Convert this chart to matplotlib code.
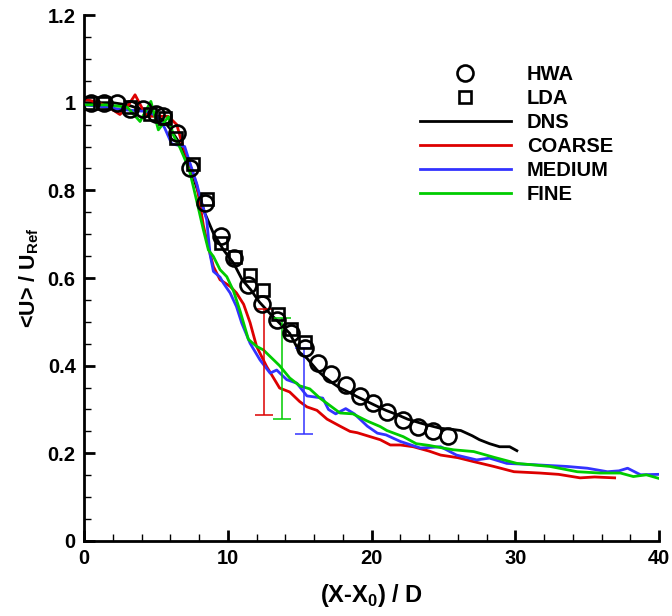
import numpy as np
import matplotlib
matplotlib.use("Agg")
import matplotlib.pyplot as plt

# fonts
plt.rcParams['font.family'] = ['Liberation Sans', 'DejaVu Sans']
plt.rcParams['font.weight'] = 'bold'
plt.rcParams['mathtext.fontset'] = 'custom'
plt.rcParams['mathtext.rm'] = 'Liberation Sans:bold'
plt.rcParams['mathtext.bf'] = 'Liberation Sans:bold'

# data
hwa_x = [0.5, 1.4, 2.3, 3.2, 4.1, 5.0, 5.5, 6.5, 7.4, 8.4, 9.5, 10.4, 11.4, 12.4, 13.4,
         14.4, 15.4, 16.3, 17.2, 18.2, 19.2, 20.1, 21.1, 22.2, 23.2, 24.3, 25.3]
hwa_y = [1.0, 1.0, 1.0, 0.985, 0.985, 0.975, 0.97, 0.93, 0.85, 0.77, 0.695, 0.645, 0.585,
         0.54, 0.505, 0.475, 0.44, 0.405, 0.38, 0.355, 0.33, 0.315, 0.295, 0.275, 0.26, 0.25, 0.24]

lda_x = [0.3, 1.3, 3.2, 4.6, 5.6, 6.4, 7.6, 8.55, 9.5, 10.5, 11.55, 12.45, 13.5, 14.4, 15.4]
lda_y = [1.0, 1.0, 0.99, 0.975, 0.965, 0.92, 0.86, 0.78, 0.68, 0.648, 0.607, 0.573, 0.518,
         0.484, 0.454]

dns_x = [0, 1, 2, 3, 4, 5, 5.5, 6, 6.5, 7, 7.5, 8, 8.4, 9.0, 9.7, 10.4, 11.0, 11.6, 12.2,
         12.9, 13.6, 14.3, 15.0, 15.5, 16.2, 16.7, 17.3, 17.8, 18.5, 19.0, 19.7, 20.4, 21.0,
         21.8, 22.5, 23.4, 24.2, 24.8, 25.5, 26.2, 27.0, 27.5, 28.2, 28.9, 29.6, 30.1]
dns_y = [1.0, 1.0, 1.0, 0.995, 0.985, 0.97, 0.96, 0.94, 0.915, 0.88, 0.84, 0.79, 0.748, 0.702,
         0.664, 0.634, 0.596, 0.573, 0.545, 0.52, 0.497, 0.474, 0.43, 0.417, 0.39, 0.375, 0.36,
         0.349, 0.338, 0.329, 0.318, 0.307, 0.298, 0.288, 0.278, 0.269, 0.262, 0.257, 0.255,
         0.252, 0.24, 0.231, 0.222, 0.215, 0.215, 0.206]

coarse_x = [0, 0.2, 1.0, 1.8, 2.5, 3.0, 3.55, 4.0, 4.4, 5.3, 5.85, 6.45, 6.8, 7.37, 7.84, 8.3,
            8.65, 9.0, 9.46, 10.16, 10.6, 11.1, 11.55, 12.0, 12.7, 13.4, 13.6, 14.3, 15.0,
            15.5, 16.2, 16.9, 17.8, 18.5, 19.0, 19.7, 20.6, 21.3, 22.0, 22.9, 24.0, 24.8,
            26.0, 27.1, 28.5, 29.9, 31.7, 33.0, 34.5, 35.5, 36.9]
coarse_y = [1.005, 1.007, 1.0, 0.988, 0.973, 0.99, 1.018, 0.99, 0.969, 0.969, 0.969, 0.95,
            0.909, 0.858, 0.813, 0.72, 0.67, 0.626, 0.596, 0.581, 0.566, 0.54, 0.498, 0.444,
            0.398, 0.36, 0.349, 0.34, 0.318, 0.306, 0.298, 0.278, 0.262, 0.25, 0.247, 0.24,
            0.231, 0.219, 0.219, 0.215, 0.205, 0.196, 0.19, 0.181, 0.17, 0.158, 0.155, 0.152,
            0.144, 0.146, 0.144]

medium_x = [0, 1.5, 2.7, 4.36, 5.05, 5.6, 6.1, 6.68, 7.0, 7.37, 7.84, 8.19, 8.53, 8.77, 9.0,
            9.46, 9.7, 10.16, 10.6, 10.97, 11.55, 12.24, 12.94, 13.4, 14.1, 14.8, 15.5, 16.6,
            17.0, 17.5, 18.2, 18.8, 19.7, 20.4, 21.0, 22.0, 23.4, 24.8, 25.9, 27.3, 28.2,
            29.4, 31.3, 33.6, 35.0, 36.4, 37.2, 37.8, 38.7, 39.95]
medium_y = [0.995, 0.99, 0.984, 0.98, 0.97, 0.943, 0.906, 0.902, 0.90, 0.862, 0.815, 0.771,
            0.733, 0.653, 0.615, 0.602, 0.588, 0.566, 0.535, 0.497, 0.451, 0.413, 0.383, 0.39,
            0.368, 0.36, 0.331, 0.326, 0.30, 0.29, 0.302, 0.29, 0.262, 0.246, 0.242, 0.227,
            0.212, 0.215, 0.196, 0.185, 0.189, 0.177, 0.174, 0.17, 0.166, 0.158, 0.16, 0.166,
            0.151, 0.152]

fine_x = [0, 1.5, 3.0, 3.9, 4.65, 5.17, 5.87, 6.2, 6.68, 7.03, 7.37, 7.6, 7.95, 8.3, 8.65,
          9.0, 9.46, 9.93, 10.4, 10.85, 11.43, 12.0, 12.47, 12.94, 13.6, 14.3, 15.0, 15.7,
          16.4, 16.9, 17.8, 18.7, 19.67, 20.6, 21.06, 22.2, 23.1, 24.0, 24.8, 25.7, 27.1,
          28.5, 30.1, 32.4, 34.3, 35.9, 37.3, 38.2, 39.1, 39.95]
fine_y = [0.995, 0.995, 0.99, 0.957, 1.003, 0.938, 0.968, 0.927, 0.897, 0.87, 0.84, 0.809,
          0.76, 0.71, 0.664, 0.649, 0.619, 0.603, 0.57, 0.525, 0.46, 0.444, 0.436, 0.421,
          0.400, 0.372, 0.354, 0.347, 0.326, 0.314, 0.292, 0.29, 0.274, 0.261, 0.252, 0.238,
          0.222, 0.218, 0.213, 0.208, 0.204, 0.191, 0.177, 0.17, 0.158, 0.155, 0.155, 0.147,
          0.151, 0.143]

# error bars: x, low, high  (coarse, fine, medium)
err_x = [12.54, 13.8, 15.3]
err_lo = [0.288, 0.278, 0.244]
err_hi = [0.53, 0.508, 0.441]

red = '#dd0000'
blue = '#3333ff'
green = '#00cc00'
err_colors = [red, green, blue]

fig = plt.figure(figsize=(6.72, 6.16), dpi=100)
ax = fig.add_axes([0.125, 0.1218, 0.856, 0.8538])

lw = 2.0
ax.plot(dns_x, dns_y, color='black', lw=lw, label='DNS', zorder=3)
ax.plot(coarse_x, coarse_y, color=red, lw=lw, label='COARSE', zorder=3)
ax.plot(medium_x, medium_y, color=blue, lw=lw, label='MEDIUM', zorder=3)
ax.plot(fine_x, fine_y, color=green, lw=lw, label='FINE', zorder=3)

for x, lo, hi, c in zip(err_x, err_lo, err_hi, err_colors):
    mid = (lo + hi) / 2
    ax.errorbar([x], [mid], yerr=[[mid - lo], [hi - mid]], fmt='none', ecolor=c,
                elinewidth=1.1, capsize=6.5, capthick=1.1, zorder=4)

ax.plot(hwa_x, hwa_y, 'o', ms=11.5, mfc='none', mec='black', mew=1.9,
        label='HWA', zorder=5)
ax.plot(lda_x, lda_y, 's', ms=8.5, mfc='none', mec='black', mew=1.9,
        label='LDA', zorder=5)

ax.set_xlim(0, 40)
ax.set_ylim(0, 1.2)
ax.set_xticks([0, 10, 20, 30, 40])
ax.set_xticks(np.arange(0, 40, 2), minor=True)
ax.set_yticks([0, 0.2, 0.4, 0.6, 0.8, 1.0, 1.2])
ax.set_yticklabels(['0', '0.2', '0.4', '0.6', '0.8', '1', '1.2'])
ax.set_yticks(np.arange(0, 1.2, 0.05), minor=True)

ax.spines['top'].set_visible(False)
ax.spines['right'].set_visible(False)
ax.spines['left'].set_linewidth(2.0)
ax.spines['bottom'].set_linewidth(2.0)
ax.tick_params(which='major', direction='in', length=8, width=2, labelsize=14.5, pad=6)
ax.tick_params(which='minor', direction='in', length=5, width=1)

ax.set_xlabel('(X-X$_\\mathbf{0}$) / D', fontsize=17, fontweight='bold', labelpad=10)
ax.set_ylabel('<U> / U$_\\mathbf{Ref}$', fontsize=15.5, fontweight='bold', labelpad=5)

handles, labels = ax.get_legend_handles_labels()
order = ['HWA', 'LDA', 'DNS', 'COARSE', 'MEDIUM', 'FINE']
hmap = dict(zip(labels, handles))
ax.legend([hmap[k] for k in order], order, loc='upper left', bbox_to_anchor=(0.584, 0.905),
          frameon=False, borderpad=0, borderaxespad=0, handlelength=4.5, handletextpad=0.8,
          labelspacing=0.25, numpoints=1, prop={'weight': 'bold', 'size': 14.5})

fig.savefig('out.png', dpi=100)
